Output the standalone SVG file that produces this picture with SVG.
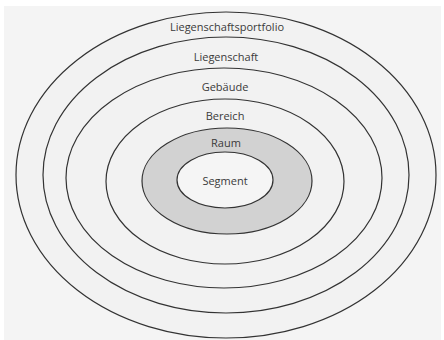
<svg xmlns="http://www.w3.org/2000/svg" width="444" height="340" viewBox="0 0 444 340">
<style>
.ring{stroke:#333;stroke-width:1.2;fill:#f2f2f2}
.raum{fill:#d2d2d2}
.seg{fill:#f5f5f5}
text{font-family:"Open Sans","Noto Sans",sans-serif;font-size:11px;fill:#3a3a3a;text-anchor:middle}
</style>
<rect x="0" y="0" width="444" height="340" fill="#ffffff"/>
<rect x="4" y="6" width="437" height="334" fill="#f4f4f4"/>
<g id="liegenschaftsportfolio"><ellipse class="ring" cx="226" cy="175" rx="210" ry="163"/><text x="227" y="31">Liegenschaftsportfolio</text></g>
<g id="liegenschaft"><ellipse class="ring" cx="226" cy="175" rx="183" ry="138"/><text x="226" y="61">Liegenschaft</text></g>
<g id="gebaeude"><ellipse class="ring" cx="224" cy="178" rx="158" ry="110"/><text x="225" y="91">Gebäude</text></g>
<g id="bereich"><ellipse class="ring" cx="225" cy="181.5" rx="119" ry="82.5"/><text x="225" y="120">Bereich</text></g>
<g id="raum"><ellipse class="ring raum" cx="227" cy="181" rx="85" ry="53"/><text x="226" y="147">Raum</text></g>
<g id="segment"><ellipse class="ring seg" cx="225" cy="180" rx="48" ry="28"/><text x="225" y="185">Segment</text></g>
<g id="connectors"/>
</svg>
